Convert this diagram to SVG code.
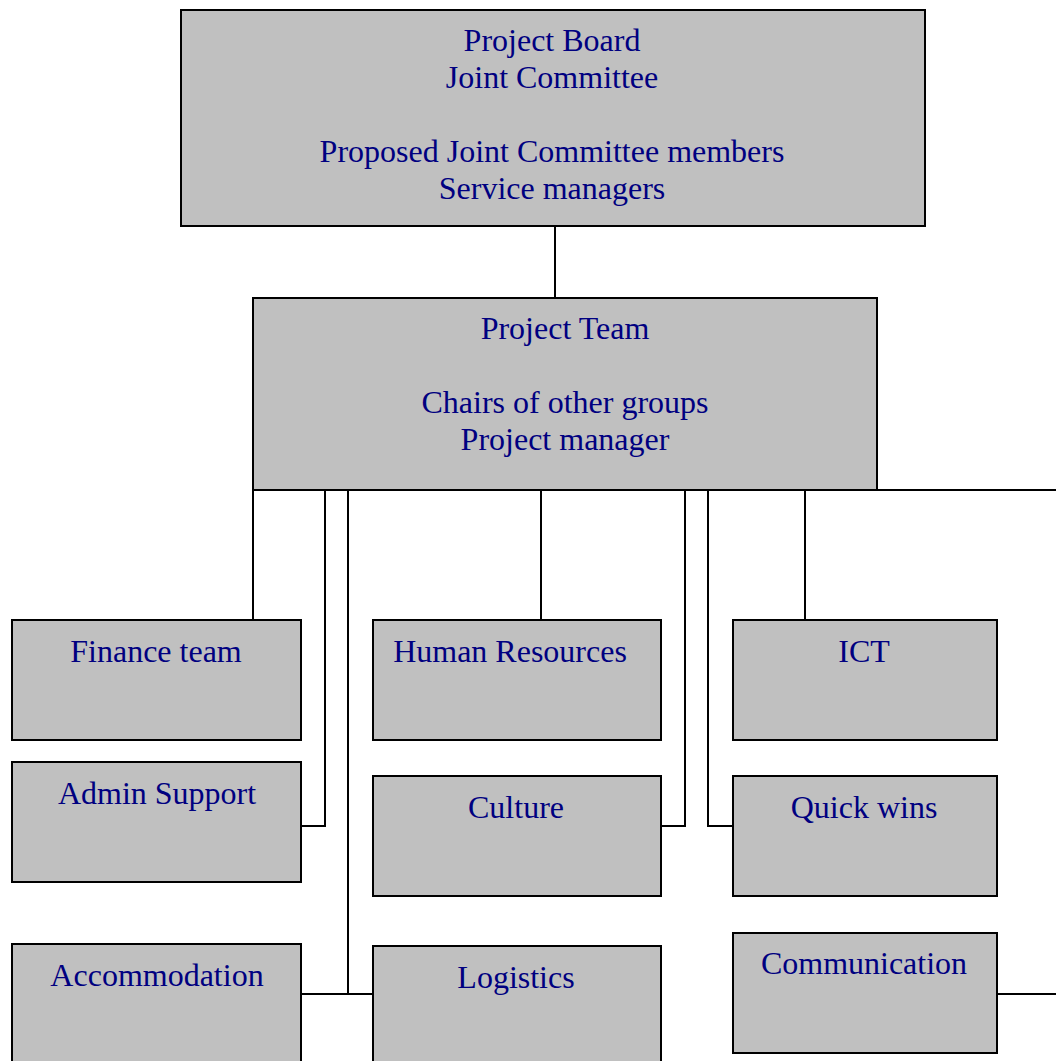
<svg xmlns="http://www.w3.org/2000/svg" width="1056" height="1061" viewBox="0 0 1056 1061">
<style>
.box{fill:#C0C0C0;stroke:#000;stroke-width:2}
.t{font-family:"Liberation Serif","Times New Roman",serif;font-size:32px;fill:#000080;text-anchor:middle}
.c{fill:none;stroke:#000;stroke-width:2}
</style>
<rect width="1056" height="1061" fill="#fff"/>
<g id="connectors">
<path class="c" d="M555 226V297"/>
<path class="c" d="M253 490H1056"/>
<path class="c" d="M253 490V620"/>
<path class="c" d="M325 490V826H301"/>
<path class="c" d="M348 490V994H301M348 994H373"/>
<path class="c" d="M541 490V620"/>
<path class="c" d="M685 490V826H661"/>
<path class="c" d="M708 490V826H733"/>
<path class="c" d="M805 490V620"/>
<path class="c" d="M997 994H1056"/>
</g>
<g id="board"><rect class="box" x="181" y="10" width="744" height="216"/>
<text class="t" x="552" y="51">Project Board</text>
<text class="t" x="552" y="88">Joint Committee</text>
<text class="t" x="552" y="162">Proposed Joint Committee members</text>
<text class="t" x="552" y="199">Service managers</text></g>
<g id="team"><rect class="box" x="253" y="298" width="624" height="192"/>
<text class="t" x="565" y="339">Project Team</text>
<text class="t" x="565" y="413">Chairs of other groups</text>
<text class="t" x="565" y="450">Project manager</text></g>
<g id="finance"><rect class="box" x="12" y="620" width="289" height="120"/><text class="t" x="156" y="662">Finance team</text></g>
<g id="admin"><rect class="box" x="12" y="762" width="289" height="120"/><text class="t" x="157" y="804">Admin Support</text></g>
<g id="accommodation"><rect class="box" x="12" y="944" width="289" height="130"/><text class="t" x="157" y="986">Accommodation</text></g>
<g id="hr"><rect class="box" x="373" y="620" width="288" height="120"/><text class="t" x="510" y="662">Human Resources</text></g>
<g id="culture"><rect class="box" x="373" y="776" width="288" height="120"/><text class="t" x="516" y="818">Culture</text></g>
<g id="logistics"><rect class="box" x="373" y="946" width="288" height="130"/><text class="t" x="516" y="988">Logistics</text></g>
<g id="ict"><rect class="box" x="733" y="620" width="264" height="120"/><text class="t" x="864" y="662">ICT</text></g>
<g id="quickwins"><rect class="box" x="733" y="776" width="264" height="120"/><text class="t" x="864" y="818">Quick wins</text></g>
<g id="communication"><rect class="box" x="733" y="933" width="264" height="120"/><text class="t" x="864" y="974">Communication</text></g>
</svg>
